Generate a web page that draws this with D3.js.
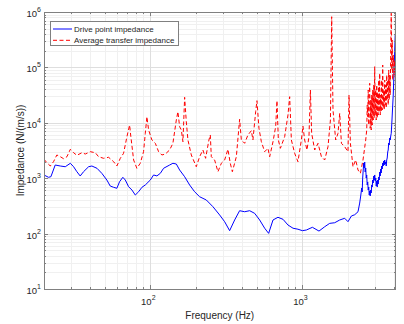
<!DOCTYPE html>
<html><head><meta charset="utf-8">
<script src="https://cdn.jsdelivr.net/npm/d3@7/dist/d3.min.js"></script>
<style>
html,body{margin:0;padding:0;background:#fff;}
svg{display:block;font-family:"Liberation Sans",Arial,sans-serif;}
</style></head>
<body>
<svg id="chart" width="404" height="324"></svg>
<script>
// ---- data ----
const seriesNames = ["Drive point impedance", "Average transfer impedance"];
const xLabel = "Frequency (Hz)";
const yLabel = "Impedance (N/(m/s))";
const xTickExponents = [2, 3];
const yTickExponents = [1, 2, 3, 4, 5, 6];
const xDomain = [20, 4096];
const yDomain = [10, 1e6];

const driveFreq = [20,21.4,22.2,23.7,25.6,27.6,29.8,31.3,32.9,34.6,36.4,39.3,41.3,44.6,48.0,51.8,54.5,57.4,60.3,62.8,66.0,68.5,72.0,75.7,79.7,83.8,88.1,92.7,100,105.1,110.5,116.4,122.3,134,140.8,148.3,155.9,168.2,181.4,195.6,211,233.6,258.1,285.7,308.2,332.4,358.6,386.7,417.3,450.1,485.6,523.8,565,600,641,691,746,804,868,935,1000,1062,1164,1286,1402,1512,1631,1760,1898,1995,2101,2209,2322,
2382,2418,2455,2474,2492,2512,2531,2550,2570,2589,2609,2629,2649,2669,2690,2710,2731,2752,2772,2793,2815,2836,2857,2880,2901,2923,2946,2968,2990,3013,3036,3059,3083,3106,3129,3153,3177,3201,3225,3250,3275,3299,3324,3350,3375,3401,3427,3453,3479,3505,3532,3559,3586,3613,3640,3668,3696,3724,3753,3782,3811,3840,3869,3898,3928,3958,3988,4018,4049,4080];
const driveImp = [1143,1038,1064,1730,1660,1611,1858,1611,1310,1096,1310,1611,1660,1510,1225,927,723,685,658,865,1038,927,703,612,497,570,685,754,927,1143,1100,1225,1510,1730,1858,1803,1406,1064,754,570,463,404,306,217,164,113,176,259,248,259,232,176,125,101,176,197,181,143,125,120,113,116,130,111,133,153,157,176,189,164,208,219,248,
356,477,665,564,1008,1406,1881,1528,1961,1294,1528,1008,1143,754,853,612,693,497,588,477,612,541,754,693,927,819,1096,927,1143,890,1008,723,890,693,927,785,1051,927,1294,1096,1466,1241,1660,1466,1881,1660,2044,1730,2130,1803,1961,1660,2130,2315,2972,3228,4315,3972,5320,4890,5780,6460,9120,13820,20940,31770,59220,110400,206000,384600];

const transferFreq = [20,20.9,22.0,23.1,24.3,25.6,26.9,28.3,29.8,31.3,32.9,35.5,37.4,40.3,43.5,45.7,49.3,53.2,57.4,60.3,63.5,66.7,70.2,73.1,74.5,77.7,81.6,85.9,90.3,92.7,95.0,97.5,102.5,107.9,113.4,119.2,125.6,134,140.8,148.3,151.9,155.9,160.0,163.9,168.2,172.5,176.8,186.1,200.6,211,221.8,231.1,242.9,248.1,251.9,264.9,278.5,293.1,308.2,323.9,335.7,346.4,368.0,386.7,396.9,417.3,438.5,461.8,473.1,493.0,502.8,518.2,537.4,565,593.9,609.5,641,667.4,680.8,695,716.7,764.8,804,825,846.6,890,935,984.9,1009,1035.4,1072,1105,1129,1151,1205,1267,1334,1402,1474,1529,1559,1590,1656,1715,1760,1806,1898,1995,2026,2069,2152,2242,2322,2407,2504,2609,
2649,2669,2690,2710,2731,2752,2772,2793,2815,2836,2857,2880,2901,2923,2946,2968,2990,3013,3036,3059,3083,3106,3129,3153,3177,3201,3225,3250,3275,3299,3324,3350,3375,3401,3427,3453,3479,3505,3532,3559,3586,3613,3640,3668,3696,3724,3753,3782,3811,3840,3869,3898,3928,3958,3988,4018,4049,4080];
const transferImp = [2193,1905,1660,1986,2624,2443,2249,2443,3324,2884,2590,2884,2733,3009,2884,2443,2286,2383,1986,1660,2286,2812,5610,9120,5610,2130,1510,1858,3009,6460,12880,7410,4890,4266,3009,2624,2733,3228,4266,11230,15850,8510,7410,4560,28840,10470,4890,2624,1611,2443,3228,2286,4890,6026,2443,2130,1310,1858,2130,3324,1858,1310,2443,11560,4890,4266,6026,7200,4890,15850,25060,7960,4560,3009,3465,2443,4560,8510,25060,4890,3465,5610,13820,29580,4890,2812,1986,4890,8750,4890,3228,5610,39080,6460,3228,4266,2443,2130,3704,11230,822000,17020,4890,6460,14830,4266,3704,3009,31770,4266,1611,2130,1406,1225,2130,4890,
7410,20940,12880,39080,9120,31770,51640,7960,25800,7410,31770,9120,39080,11230,48080,12210,103000,13820,39080,11230,48080,12210,35970,13820,59220,15660,78240,13820,31770,15660,59220,17020,110400,18490,39080,17020,59220,20940,48080,18490,72950,25800,59220,20940,89800,25800,72950,31770,206000,948000,89800,312600,59220,167500,103000,72950,136000,59220];

// ---- layout ----
const W = 404, H = 324;
const plot = {left: 44, top: 12, right: 395.5, bottom: 289};
const axisColor = "#808080", textColor = "#262626";

const svg = d3.select("#chart");
const x = d3.scaleLog().domain(xDomain).range([plot.left, plot.right]);
const y = d3.scaleLog().domain(yDomain).range([plot.bottom, plot.top]);

svg.append("rect").attr("width", W).attr("height", H).attr("fill", "#fff");

// minor & major tick values
const xMinor = [], yMinor = [];
for (let e = 1; e <= 3; e++) for (let m = 2; m <= 9; m++) { const v = m * Math.pow(10, e); if (v > xDomain[0] && v < xDomain[1]) xMinor.push(v); }
for (let e = 1; e <= 5; e++) for (let m = 2; m <= 9; m++) yMinor.push(m * Math.pow(10, e));
const xMajor = xTickExponents.map(e => Math.pow(10, e));
const yMajor = yTickExponents.map(e => Math.pow(10, e));

const grid = svg.append("g").attr("shape-rendering", "crispEdges");
grid.selectAll(".xm").data(xMinor).join("line")
  .attr("x1", d => Math.round(x(d)) + 0.5).attr("x2", d => Math.round(x(d)) + 0.5)
  .attr("y1", plot.top).attr("y2", plot.bottom).attr("stroke", "#f0f0f0");
grid.selectAll(".ym").data(yMinor).join("line")
  .attr("y1", d => Math.round(y(d)) + 0.5).attr("y2", d => Math.round(y(d)) + 0.5)
  .attr("x1", plot.left).attr("x2", plot.right).attr("stroke", "#f0f0f0");
grid.selectAll(".xM").data(xMajor).join("line")
  .attr("x1", d => Math.round(x(d)) + 0.5).attr("x2", d => Math.round(x(d)) + 0.5)
  .attr("y1", plot.top).attr("y2", plot.bottom).attr("stroke", "#dedede");
grid.selectAll(".yM").data(yMajor).join("line")
  .attr("y1", d => Math.round(y(d)) + 0.5).attr("y2", d => Math.round(y(d)) + 0.5)
  .attr("x1", plot.left).attr("x2", plot.right).attr("stroke", "#dedede");

// data lines
svg.append("defs").append("clipPath").attr("id", "clip")
  .append("rect").attr("x", plot.left).attr("y", plot.top)
  .attr("width", plot.right - plot.left).attr("height", plot.bottom - plot.top);

const line = d3.line().x(d => x(d[0])).y(d => y(d[1]));
const driveData = driveFreq.map((f, i) => [f, driveImp[i]]);
const transferData = transferFreq.map((f, i) => [f, transferImp[i]]);

const lines = svg.append("g").attr("clip-path", "url(#clip)");
lines.append("path").datum(driveData).attr("d", line)
  .attr("fill", "none").attr("stroke", "#0000ff").attr("stroke-width", 1).attr("stroke-linejoin", "round");
lines.append("path").datum(transferData).attr("d", line)
  .attr("fill", "none").attr("stroke", "#ff0000").attr("stroke-width", 1)
  .attr("stroke-dasharray", "4,2.5").attr("stroke-linejoin", "round");

// axes (box + inside ticks on all sides)
const ax = svg.append("g").attr("shape-rendering", "crispEdges").attr("stroke", axisColor);
ax.append("rect").attr("x", plot.left + 0.5).attr("y", plot.top + 0.5)
  .attr("width", plot.right - plot.left - 1).attr("height", plot.bottom - plot.top)
  .attr("fill", "none");
function xt(vals, len) {
  vals.forEach(v => {
    const px = Math.round(x(v)) + 0.5;
    ax.append("line").attr("x1", px).attr("x2", px).attr("y1", plot.bottom).attr("y2", plot.bottom - len);
    ax.append("line").attr("x1", px).attr("x2", px).attr("y1", plot.top).attr("y2", plot.top + len);
  });
}
function yt(vals, len) {
  vals.forEach(v => {
    const py = Math.round(y(v)) + 0.5;
    ax.append("line").attr("y1", py).attr("y2", py).attr("x1", plot.left).attr("x2", plot.left + len);
    ax.append("line").attr("y1", py).attr("y2", py).attr("x1", plot.right).attr("x2", plot.right - len);
  });
}
xt(xMajor, 4); xt(xMinor, 2);
yt(yMajor, 4); yt(yMinor, 2);

// tick labels
const xl = svg.append("g").attr("fill", textColor).attr("font-size", 9.5);
xTickExponents.forEach(e => {
  const t = xl.append("text").attr("x", x(Math.pow(10, e)) - 2).attr("y", 305).attr("text-anchor", "middle");
  t.append("tspan").text("10");
  t.append("tspan").attr("dy", -5).attr("font-size", 7).text(e);
});
const yl = svg.append("g").attr("fill", textColor).attr("font-size", 9.5);
yTickExponents.forEach(e => {
  const t = yl.append("text").attr("x", 41).attr("y", y(Math.pow(10, e)) + 5).attr("text-anchor", "end");
  t.append("tspan").text("10");
  t.append("tspan").attr("dy", -5).attr("font-size", 7).text(e);
});

// axis labels
svg.append("text").attr("x", (plot.left + plot.right) / 2).attr("y", 319)
  .attr("text-anchor", "middle").attr("font-size", 10).attr("fill", textColor).text(xLabel);
svg.append("text").attr("transform", `translate(23.5,${(plot.top + plot.bottom) / 2}) rotate(-90)`)
  .attr("text-anchor", "middle").attr("font-size", 10).attr("fill", textColor).text(yLabel);

// legend
const lg = svg.append("g");
lg.append("rect").attr("x", 50.5).attr("y", 21.5).attr("width", 128).attr("height", 23.5)
  .attr("fill", "#fff").attr("stroke", axisColor).attr("shape-rendering", "crispEdges");
const legendStyles = [
  {color: "#0000ff", dash: null, y: 29},
  {color: "#ff0000", dash: "4,2.5", y: 40.3}
];
seriesNames.forEach((name, i) => {
  const s = legendStyles[i];
  const l = lg.append("line").attr("x1", 53).attr("x2", 72).attr("y1", s.y).attr("y2", s.y)
    .attr("stroke", s.color).attr("stroke-width", 1);
  if (s.dash) l.attr("stroke-dasharray", s.dash);
  lg.append("text").attr("x", 74).attr("y", s.y + 3).attr("font-size", 8)
    .attr("fill", textColor).text(name);
});
</script>
</body></html>
